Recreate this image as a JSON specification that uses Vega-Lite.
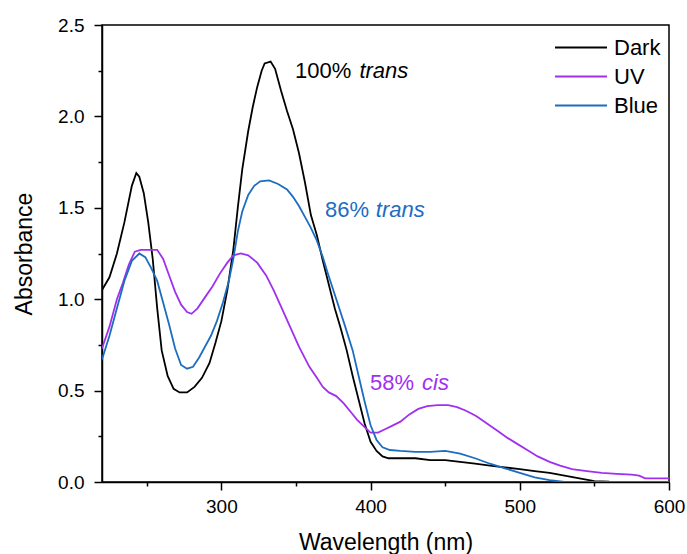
{
  "$schema": "https://vega.github.io/schema/vega-lite/v6.json",
  "width": 567,
  "height": 457,
  "autosize": "none",
  "padding": {"left": 102, "top": 25, "right": 18, "bottom": 72},
  "background": "white",
  "config": {
    "view": {"stroke": "black", "strokeWidth": 1.5},
    "font": "Liberation Sans"
  },
  "datasets": {
    "spectra": [
      {"series": "Dark", "wavelength": 220, "absorbance": 1.05},
      {"series": "Dark", "wavelength": 225, "absorbance": 1.12},
      {"series": "Dark", "wavelength": 230, "absorbance": 1.25},
      {"series": "Dark", "wavelength": 235, "absorbance": 1.42},
      {"series": "Dark", "wavelength": 240, "absorbance": 1.62},
      {"series": "Dark", "wavelength": 243, "absorbance": 1.69},
      {"series": "Dark", "wavelength": 245, "absorbance": 1.67},
      {"series": "Dark", "wavelength": 248, "absorbance": 1.58},
      {"series": "Dark", "wavelength": 251, "absorbance": 1.42},
      {"series": "Dark", "wavelength": 254, "absorbance": 1.22},
      {"series": "Dark", "wavelength": 257, "absorbance": 0.95},
      {"series": "Dark", "wavelength": 260, "absorbance": 0.72},
      {"series": "Dark", "wavelength": 264, "absorbance": 0.58},
      {"series": "Dark", "wavelength": 268, "absorbance": 0.51},
      {"series": "Dark", "wavelength": 272, "absorbance": 0.49},
      {"series": "Dark", "wavelength": 277, "absorbance": 0.49},
      {"series": "Dark", "wavelength": 282, "absorbance": 0.52},
      {"series": "Dark", "wavelength": 287, "absorbance": 0.57},
      {"series": "Dark", "wavelength": 292, "absorbance": 0.65},
      {"series": "Dark", "wavelength": 296, "absorbance": 0.76},
      {"series": "Dark", "wavelength": 300, "absorbance": 0.88},
      {"series": "Dark", "wavelength": 304, "absorbance": 1.05},
      {"series": "Dark", "wavelength": 308, "absorbance": 1.27},
      {"series": "Dark", "wavelength": 311, "absorbance": 1.5},
      {"series": "Dark", "wavelength": 314, "absorbance": 1.71},
      {"series": "Dark", "wavelength": 318, "absorbance": 1.92},
      {"series": "Dark", "wavelength": 321, "absorbance": 2.05},
      {"series": "Dark", "wavelength": 324, "absorbance": 2.16},
      {"series": "Dark", "wavelength": 327, "absorbance": 2.25},
      {"series": "Dark", "wavelength": 329, "absorbance": 2.29},
      {"series": "Dark", "wavelength": 333, "absorbance": 2.3},
      {"series": "Dark", "wavelength": 336, "absorbance": 2.26},
      {"series": "Dark", "wavelength": 340, "absorbance": 2.14},
      {"series": "Dark", "wavelength": 344, "absorbance": 2.03},
      {"series": "Dark", "wavelength": 348, "absorbance": 1.93},
      {"series": "Dark", "wavelength": 352, "absorbance": 1.8},
      {"series": "Dark", "wavelength": 356, "absorbance": 1.64},
      {"series": "Dark", "wavelength": 360, "absorbance": 1.46},
      {"series": "Dark", "wavelength": 364, "absorbance": 1.35},
      {"series": "Dark", "wavelength": 368, "absorbance": 1.21},
      {"series": "Dark", "wavelength": 372, "absorbance": 1.08},
      {"series": "Dark", "wavelength": 376, "absorbance": 0.95},
      {"series": "Dark", "wavelength": 380, "absorbance": 0.84},
      {"series": "Dark", "wavelength": 384, "absorbance": 0.72},
      {"series": "Dark", "wavelength": 388, "absorbance": 0.58},
      {"series": "Dark", "wavelength": 392, "absorbance": 0.45},
      {"series": "Dark", "wavelength": 396, "absorbance": 0.32},
      {"series": "Dark", "wavelength": 400, "absorbance": 0.22},
      {"series": "Dark", "wavelength": 404, "absorbance": 0.17},
      {"series": "Dark", "wavelength": 408, "absorbance": 0.14},
      {"series": "Dark", "wavelength": 412, "absorbance": 0.13},
      {"series": "Dark", "wavelength": 420, "absorbance": 0.13},
      {"series": "Dark", "wavelength": 430, "absorbance": 0.13},
      {"series": "Dark", "wavelength": 440, "absorbance": 0.12},
      {"series": "Dark", "wavelength": 450, "absorbance": 0.12},
      {"series": "Dark", "wavelength": 460, "absorbance": 0.11},
      {"series": "Dark", "wavelength": 470, "absorbance": 0.1},
      {"series": "Dark", "wavelength": 480, "absorbance": 0.09},
      {"series": "Dark", "wavelength": 490, "absorbance": 0.08},
      {"series": "Dark", "wavelength": 500, "absorbance": 0.07},
      {"series": "Dark", "wavelength": 510, "absorbance": 0.06},
      {"series": "Dark", "wavelength": 520, "absorbance": 0.05},
      {"series": "Dark", "wavelength": 530, "absorbance": 0.035},
      {"series": "Dark", "wavelength": 540, "absorbance": 0.02},
      {"series": "Dark", "wavelength": 550, "absorbance": 0.005},
      {"series": "Dark", "wavelength": 560, "absorbance": 0.002},
      {"series": "Dark", "wavelength": 580, "absorbance": 0.0},
      {"series": "Dark", "wavelength": 600, "absorbance": 0.0},
      {"series": "UV", "wavelength": 220, "absorbance": 0.73},
      {"series": "UV", "wavelength": 225, "absorbance": 0.85},
      {"series": "UV", "wavelength": 230, "absorbance": 1.0},
      {"series": "UV", "wavelength": 234, "absorbance": 1.09},
      {"series": "UV", "wavelength": 238, "absorbance": 1.19},
      {"series": "UV", "wavelength": 242, "absorbance": 1.26},
      {"series": "UV", "wavelength": 246, "absorbance": 1.27},
      {"series": "UV", "wavelength": 251, "absorbance": 1.27},
      {"series": "UV", "wavelength": 257, "absorbance": 1.27},
      {"series": "UV", "wavelength": 261, "absorbance": 1.22},
      {"series": "UV", "wavelength": 265, "absorbance": 1.13},
      {"series": "UV", "wavelength": 269, "absorbance": 1.04},
      {"series": "UV", "wavelength": 273, "absorbance": 0.97},
      {"series": "UV", "wavelength": 277, "absorbance": 0.93},
      {"series": "UV", "wavelength": 280, "absorbance": 0.92},
      {"series": "UV", "wavelength": 284, "absorbance": 0.95},
      {"series": "UV", "wavelength": 289, "absorbance": 1.01},
      {"series": "UV", "wavelength": 294, "absorbance": 1.07},
      {"series": "UV", "wavelength": 299, "absorbance": 1.14},
      {"series": "UV", "wavelength": 304, "absorbance": 1.2},
      {"series": "UV", "wavelength": 308, "absorbance": 1.24},
      {"series": "UV", "wavelength": 313, "absorbance": 1.25},
      {"series": "UV", "wavelength": 318, "absorbance": 1.24},
      {"series": "UV", "wavelength": 324, "absorbance": 1.2},
      {"series": "UV", "wavelength": 330, "absorbance": 1.13},
      {"series": "UV", "wavelength": 335, "absorbance": 1.05},
      {"series": "UV", "wavelength": 340, "absorbance": 0.96},
      {"series": "UV", "wavelength": 346, "absorbance": 0.85},
      {"series": "UV", "wavelength": 352, "absorbance": 0.74},
      {"series": "UV", "wavelength": 359, "absorbance": 0.63},
      {"series": "UV", "wavelength": 364, "absorbance": 0.57},
      {"series": "UV", "wavelength": 368, "absorbance": 0.52},
      {"series": "UV", "wavelength": 372, "absorbance": 0.49},
      {"series": "UV", "wavelength": 377, "absorbance": 0.47},
      {"series": "UV", "wavelength": 382, "absorbance": 0.43},
      {"series": "UV", "wavelength": 387, "absorbance": 0.38},
      {"series": "UV", "wavelength": 391, "absorbance": 0.34},
      {"series": "UV", "wavelength": 396, "absorbance": 0.3},
      {"series": "UV", "wavelength": 400, "absorbance": 0.27},
      {"series": "UV", "wavelength": 405, "absorbance": 0.27},
      {"series": "UV", "wavelength": 410, "absorbance": 0.29},
      {"series": "UV", "wavelength": 415, "absorbance": 0.31},
      {"series": "UV", "wavelength": 420, "absorbance": 0.33},
      {"series": "UV", "wavelength": 426, "absorbance": 0.37},
      {"series": "UV", "wavelength": 432, "absorbance": 0.4},
      {"series": "UV", "wavelength": 438, "absorbance": 0.415},
      {"series": "UV", "wavelength": 445, "absorbance": 0.42},
      {"series": "UV", "wavelength": 452, "absorbance": 0.42},
      {"series": "UV", "wavelength": 458, "absorbance": 0.41},
      {"series": "UV", "wavelength": 464, "absorbance": 0.39},
      {"series": "UV", "wavelength": 471, "absorbance": 0.36},
      {"series": "UV", "wavelength": 478, "absorbance": 0.32},
      {"series": "UV", "wavelength": 485, "absorbance": 0.28},
      {"series": "UV", "wavelength": 492, "absorbance": 0.24},
      {"series": "UV", "wavelength": 498, "absorbance": 0.21},
      {"series": "UV", "wavelength": 505, "absorbance": 0.175},
      {"series": "UV", "wavelength": 512, "absorbance": 0.14},
      {"series": "UV", "wavelength": 520, "absorbance": 0.11},
      {"series": "UV", "wavelength": 527, "absorbance": 0.09},
      {"series": "UV", "wavelength": 535, "absorbance": 0.07},
      {"series": "UV", "wavelength": 545, "absorbance": 0.06},
      {"series": "UV", "wavelength": 555, "absorbance": 0.05},
      {"series": "UV", "wavelength": 565, "absorbance": 0.045},
      {"series": "UV", "wavelength": 575, "absorbance": 0.04},
      {"series": "UV", "wavelength": 580, "absorbance": 0.035},
      {"series": "UV", "wavelength": 584, "absorbance": 0.02},
      {"series": "UV", "wavelength": 600, "absorbance": 0.02},
      {"series": "Blue", "wavelength": 220, "absorbance": 0.67},
      {"series": "Blue", "wavelength": 225, "absorbance": 0.8},
      {"series": "Blue", "wavelength": 230, "absorbance": 0.95},
      {"series": "Blue", "wavelength": 235, "absorbance": 1.1},
      {"series": "Blue", "wavelength": 240, "absorbance": 1.21},
      {"series": "Blue", "wavelength": 245, "absorbance": 1.25},
      {"series": "Blue", "wavelength": 249, "absorbance": 1.23},
      {"series": "Blue", "wavelength": 253, "absorbance": 1.17},
      {"series": "Blue", "wavelength": 257, "absorbance": 1.1},
      {"series": "Blue", "wavelength": 261, "absorbance": 0.98},
      {"series": "Blue", "wavelength": 265, "absorbance": 0.86},
      {"series": "Blue", "wavelength": 269, "absorbance": 0.73},
      {"series": "Blue", "wavelength": 273, "absorbance": 0.64},
      {"series": "Blue", "wavelength": 277, "absorbance": 0.62},
      {"series": "Blue", "wavelength": 281, "absorbance": 0.63},
      {"series": "Blue", "wavelength": 285, "absorbance": 0.68},
      {"series": "Blue", "wavelength": 289, "absorbance": 0.74},
      {"series": "Blue", "wavelength": 293, "absorbance": 0.8},
      {"series": "Blue", "wavelength": 297, "absorbance": 0.88},
      {"series": "Blue", "wavelength": 301, "absorbance": 0.98},
      {"series": "Blue", "wavelength": 305, "absorbance": 1.1},
      {"series": "Blue", "wavelength": 308, "absorbance": 1.22},
      {"series": "Blue", "wavelength": 311, "absorbance": 1.37},
      {"series": "Blue", "wavelength": 314, "absorbance": 1.48},
      {"series": "Blue", "wavelength": 318, "absorbance": 1.57},
      {"series": "Blue", "wavelength": 322, "absorbance": 1.62},
      {"series": "Blue", "wavelength": 326, "absorbance": 1.645},
      {"series": "Blue", "wavelength": 332, "absorbance": 1.65},
      {"series": "Blue", "wavelength": 338, "absorbance": 1.63},
      {"series": "Blue", "wavelength": 344, "absorbance": 1.6},
      {"series": "Blue", "wavelength": 348, "absorbance": 1.56},
      {"series": "Blue", "wavelength": 352, "absorbance": 1.51},
      {"series": "Blue", "wavelength": 356, "absorbance": 1.45},
      {"series": "Blue", "wavelength": 360, "absorbance": 1.39},
      {"series": "Blue", "wavelength": 364, "absorbance": 1.32},
      {"series": "Blue", "wavelength": 368, "absorbance": 1.23},
      {"series": "Blue", "wavelength": 371, "absorbance": 1.15},
      {"series": "Blue", "wavelength": 375, "absorbance": 1.05},
      {"series": "Blue", "wavelength": 379, "absorbance": 0.95},
      {"series": "Blue", "wavelength": 383, "absorbance": 0.85},
      {"series": "Blue", "wavelength": 388, "absorbance": 0.72},
      {"series": "Blue", "wavelength": 392, "absorbance": 0.58},
      {"series": "Blue", "wavelength": 396, "absorbance": 0.44},
      {"series": "Blue", "wavelength": 400, "absorbance": 0.31},
      {"series": "Blue", "wavelength": 404, "absorbance": 0.23},
      {"series": "Blue", "wavelength": 408, "absorbance": 0.19},
      {"series": "Blue", "wavelength": 413, "absorbance": 0.175},
      {"series": "Blue", "wavelength": 420, "absorbance": 0.17},
      {"series": "Blue", "wavelength": 430, "absorbance": 0.165},
      {"series": "Blue", "wavelength": 440, "absorbance": 0.165},
      {"series": "Blue", "wavelength": 450, "absorbance": 0.17},
      {"series": "Blue", "wavelength": 460, "absorbance": 0.155},
      {"series": "Blue", "wavelength": 470, "absorbance": 0.13},
      {"series": "Blue", "wavelength": 480, "absorbance": 0.1},
      {"series": "Blue", "wavelength": 490, "absorbance": 0.075},
      {"series": "Blue", "wavelength": 500, "absorbance": 0.05},
      {"series": "Blue", "wavelength": 510, "absorbance": 0.025},
      {"series": "Blue", "wavelength": 520, "absorbance": 0.01},
      {"series": "Blue", "wavelength": 530, "absorbance": 0.0},
      {"series": "Blue", "wavelength": 600, "absorbance": 0.0}
    ],
    "labels": [
      {"series": "Dark", "text": "100%", "wavelength": 349.4, "absorbance": 2.25},
      {"series": "Blue", "text": "86%", "wavelength": 369.5, "absorbance": 1.49},
      {"series": "UV", "text": "58%", "wavelength": 399.6, "absorbance": 0.54}
    ],
    "italics": [
      {"series": "Dark", "text": "trans", "wavelength": 392.5, "absorbance": 2.25},
      {"series": "Blue", "text": "trans", "wavelength": 403.5, "absorbance": 1.49},
      {"series": "UV", "text": "cis", "wavelength": 434.5, "absorbance": 0.54}
    ]
  },
  "encoding": {
    "x": {
      "field": "wavelength",
      "type": "quantitative",
      "scale": {"domain": [220, 600], "nice": false, "zero": false},
      "axis": {
        "title": "Wavelength (nm)",
        "values": [250, 300, 350, 400, 450, 500, 550, 600],
        "labelExpr": "datum.value % 100 == 0 ? datum.label : ''",
        "tickSize": {"condition": {"test": "datum.value % 100 == 0", "value": 8}, "value": 4},
        "grid": false,
        "labelFlush": false,
        "labelOverlap": false,
        "labelFontSize": 19,
        "labelPadding": 7,
        "labelColor": "black",
        "titleFontSize": 23,
        "titleFontWeight": "normal",
        "titleColor": "black",
        "titlePadding": 15,
        "domainColor": "black",
        "domainWidth": 1.5,
        "tickColor": "black",
        "tickWidth": 1.5
      }
    },
    "y": {
      "field": "absorbance",
      "type": "quantitative",
      "scale": {"domain": [0, 2.5], "nice": false, "zero": true},
      "axis": {
        "title": "Absorbance",
        "values": [0, 0.25, 0.5, 0.75, 1, 1.25, 1.5, 1.75, 2, 2.25, 2.5],
        "labelExpr": "abs(datum.value * 2 - round(datum.value * 2)) < 0.001 ? format(datum.value, '.1f') : ''",
        "tickSize": {"condition": {"test": "abs(datum.value * 2 - round(datum.value * 2)) < 0.001", "value": 8}, "value": 4},
        "grid": false,
        "labelFlush": false,
        "labelOverlap": false,
        "labelFontSize": 19,
        "labelPadding": 10,
        "labelColor": "black",
        "titleFontSize": 23,
        "titleFontWeight": "normal",
        "titleColor": "black",
        "titlePadding": 21,
        "domainColor": "black",
        "domainWidth": 1.5,
        "tickColor": "black",
        "tickWidth": 1.5
      }
    },
    "color": {
      "field": "series",
      "type": "nominal",
      "scale": {"domain": ["Dark", "UV", "Blue"], "range": ["#000000", "#a030f0", "#1c6dc2"]},
      "legend": {
        "title": null,
        "orient": "none",
        "legendX": 452,
        "legendY": 8,
        "padding": 0,
        "clipHeight": 29,
        "symbolType": "stroke",
        "symbolSize": 2704,
        "symbolStrokeWidth": 2,
        "labelFontSize": 22,
        "labelColor": "black",
        "labelOffset": 6,
        "rowPadding": 0
      }
    }
  },
  "layer": [
    {
      "data": {"name": "spectra"},
      "mark": {"type": "line", "strokeWidth": 1.8, "clip": true}
    },
    {
      "data": {"name": "labels"},
      "mark": {"type": "text", "align": "left", "baseline": "middle", "fontSize": 22},
      "encoding": {"text": {"field": "text"}}
    },
    {
      "data": {"name": "italics"},
      "mark": {"type": "text", "align": "left", "baseline": "middle", "fontSize": 22, "fontStyle": "italic"},
      "encoding": {"text": {"field": "text"}}
    }
  ]
}
